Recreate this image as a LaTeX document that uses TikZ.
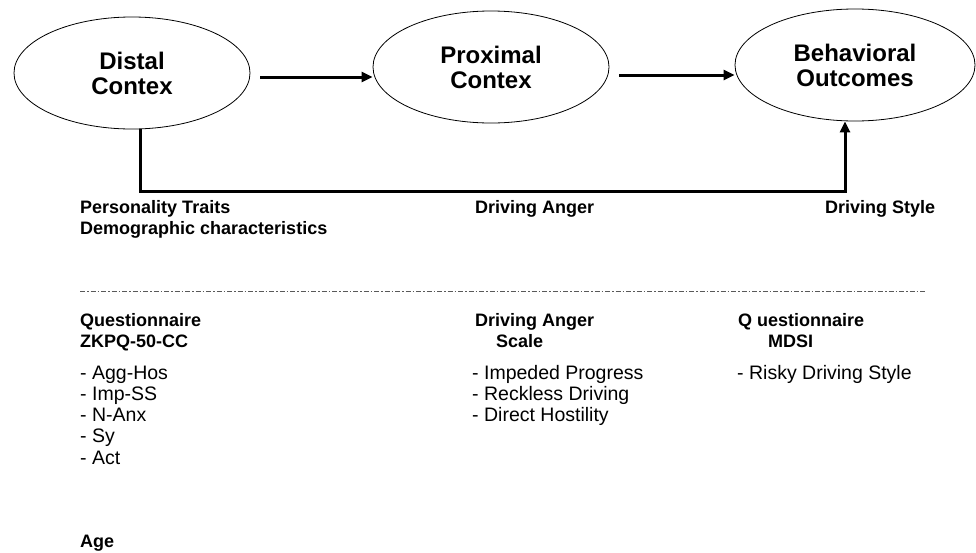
\documentclass[tikz,border=0pt]{standalone}
\usepackage{fontspec}
\setmainfont{Liberation Sans}
\usetikzlibrary{shapes.geometric,arrows.meta}

\tikzset{
  stage/.style={ellipse, draw, thick, minimum width=236pt, minimum height=112pt,
    align=center, font=\fontsize{24}{25}\selectfont\bfseries},
  conn/.style={line width=3pt, -{Triangle[length=11pt,width=10pt]}},
  head/.style={anchor=base west, inner sep=0pt, align=left,
    font=\fontsize{18}{21}\selectfont\bfseries},
  item/.style={anchor=base west, inner sep=0pt, align=left,
    font=\fontsize{19.5}{21.3}\selectfont}
}

\begin{document}
\begin{tikzpicture}[x=1pt, y=-1pt]
\useasboundingbox (0,0) rectangle (976,552);

% top row
\node (distal) [stage] at (132,73) {Distal\\Contex};
\node (proximal) [stage] at (491,67) {Proximal\\Contex};
\node (behav) [stage, minimum width=240pt] at (855,65) {Behavioral\\Outcomes};

\draw[conn] (distal.east) ++(10,4) coordinate (a1) -- (a1 -| proximal.west);
\draw[conn] (proximal.east) ++(10,8) coordinate (a2) -- (a2 -| behav.west);
\draw[conn] ([xshift=8pt]distal.south) -- ++(0,62) -| ([xshift=-10pt]behav.south);

% constructs (base = last line)
\node (pers) [head] at (80,234) {Personality Traits\\Demographic characteristics};
\node (anger) [head] at (475,213) {Driving Anger};
\node (style) [head] at (825,213) {Driving Style};

\coordinate (sepl) at (80,291);
\coordinate (sepr) at (925,291);
\draw[gray!70!black, thin, dash pattern=on 5pt off 2pt on 1.5pt off 2pt] (sepl) -- (sepr);

% measures
\node (zkpq) [head] at (80,347) {Questionnaire\\ZKPQ-50-CC};
\node (das) [head] at (475,347) {Driving Anger\\\hspace*{21pt}Scale};
\node (mdsi) [head] at (738,347) {Q uestionnaire\\\hspace*{30pt}MDSI};

\node (zkpqlist) [item] at (80,464.2) {- Agg-Hos\\- Imp-SS\\- N-Anx\\- Sy\\- Act};
\node (daslist) [item] at (472,421.6) {- Impeded Progress\\- Reckless Driving\\- Direct Hostility};
\node (mdsilist) [item] at (737,379) {- Risky Driving Style};

\node (age) [head] at (80,547) {Age};
\end{tikzpicture}
\end{document}
